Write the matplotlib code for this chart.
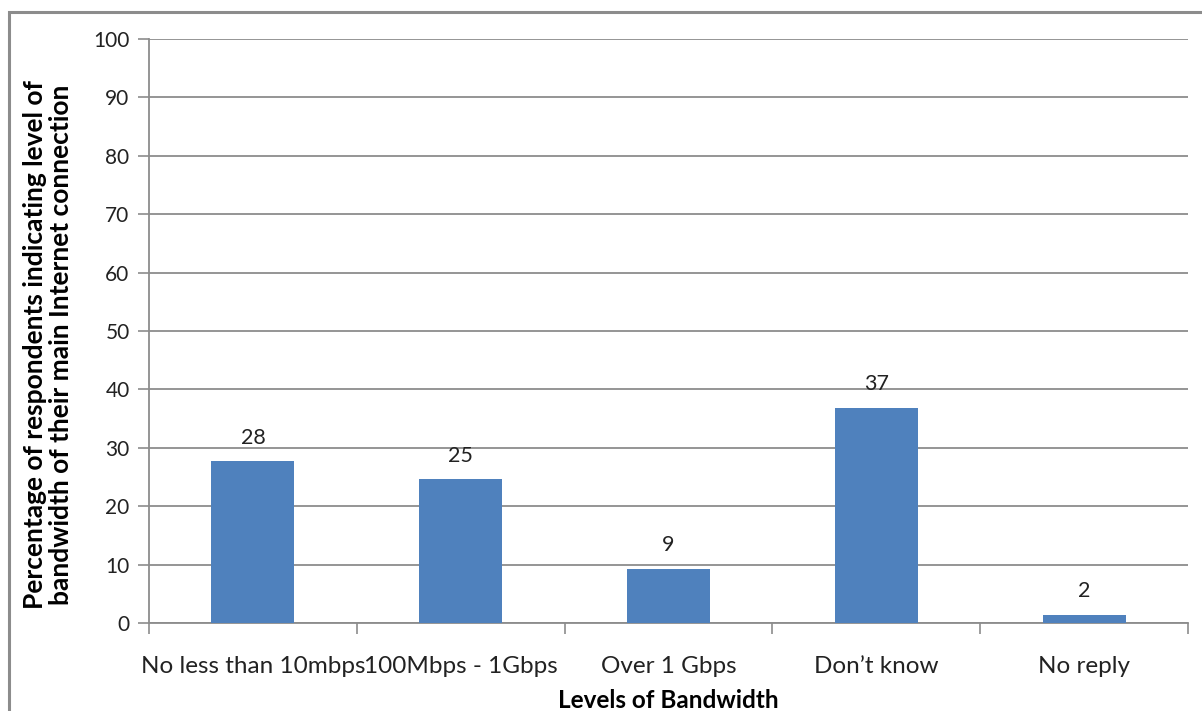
import matplotlib.pyplot as plt
from matplotlib.patches import Rectangle

categories = ["No less than 10mbps", "100Mbps - 1Gbps", "Over 1 Gbps", "Don\u2019t know", "No reply"]
values = [27.7, 24.6, 9.3, 36.9, 1.4]
labels = ["28", "25", "9", "37", "2"]

plt.rcParams['font.family'] = ['Lato', 'DejaVu Sans']

fig = plt.figure(figsize=(12.02, 7.11), dpi=100)
fig.patches.append(Rectangle((9 / 1202, -0.1), 1.2, 1 - 12 / 711 + 0.1, transform=fig.transFigure,
                             fill=False, edgecolor="#8c8c8c", linewidth=2.2))

ax = fig.add_axes([149 / 1202, 1 - 623 / 711, (1188 - 149) / 1202, (623 - 39) / 711])
x = list(range(len(categories)))
ax.bar(x, values, width=0.4, color="#4F81BD", zorder=3)
for xi, v, lab in zip(x, values, labels):
    ax.text(xi, v + 3.0, lab, ha="center", va="baseline", fontsize=15.5, color="#222222")

ax.set_xlim(-0.5, len(categories) - 0.5)
ax.set_ylim(0, 100)
ax.set_yticks(range(0, 101, 10))
ax.grid(axis="y", color="#8c8c8c", linewidth=1.3, zorder=0)

ax.set_xticks(x)
ax.set_xticklabels(categories, fontsize=17.5, color="#222222")
ax.tick_params(axis="x", length=0, pad=23.5)
ax.set_xticks([i - 0.5 for i in range(len(categories) + 1)], minor=True)
ax.tick_params(axis="x", which="minor", length=8, color="#8c8c8c", width=1.2)
ax.tick_params(axis="y", length=8, color="#8c8c8c", width=1.2, labelsize=15, labelcolor="#222222", pad=6)

for s in ["top", "right"]:
    ax.spines[s].set_visible(False)
for s in ["left", "bottom"]:
    ax.spines[s].set_color("#8c8c8c")
    ax.spines[s].set_linewidth(1.3)

fig.text(48 / 1202, 1 - 345 / 711,
         "Percentage of respondents indicating level of\nbandwidth of their main Internet connection",
         rotation=90, ha="center", va="center", fontsize=19, fontweight="bold",
         color="#000000", linespacing=1.12)
fig.text(668 / 1202, 1 - 700 / 711, "Levels of Bandwidth", ha="center", va="center",
         fontsize=17.5, fontweight="bold", color="#000000")

fig.savefig("out.png", dpi=100)
